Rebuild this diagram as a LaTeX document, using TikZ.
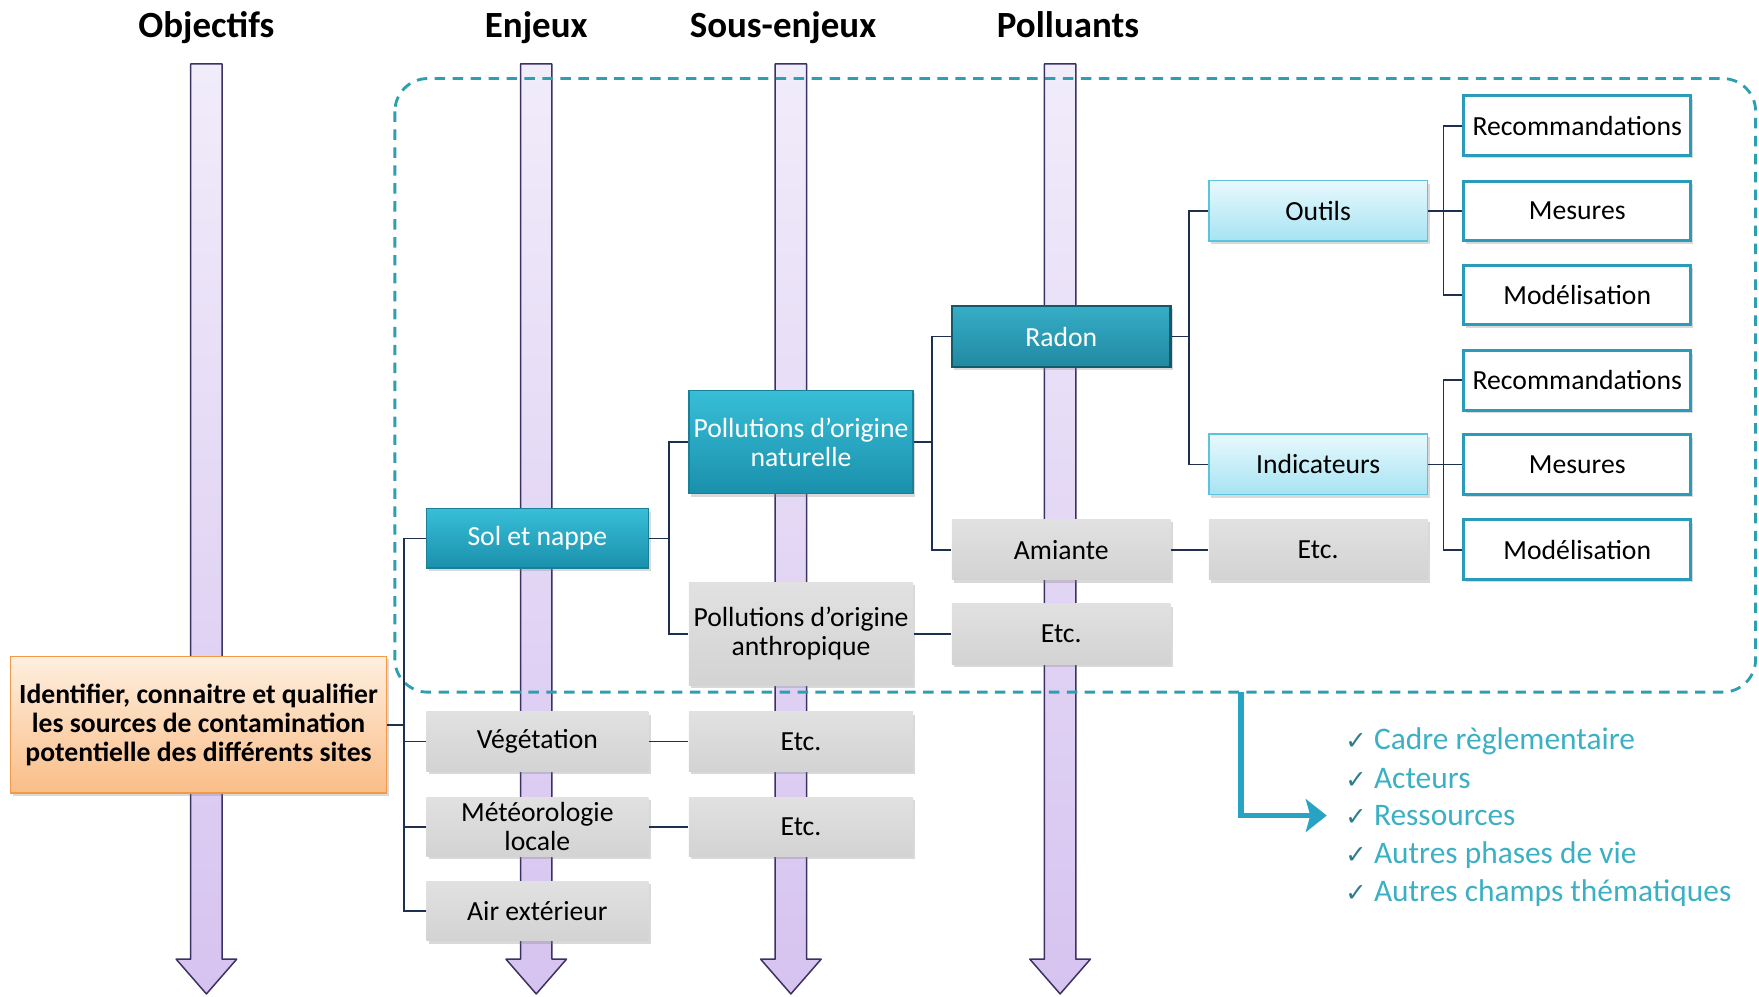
\documentclass[tikz,border=0pt]{standalone}
\usepackage{fontspec}
\setmainfont{Carlito}
\newfontfamily\symfont{DejaVu Sans}
\usetikzlibrary{shadows,arrows.meta}

\definecolor{conncol}{HTML}{1F2F4F}
\definecolor{framecol}{HTML}{2E9FB0}
\definecolor{arrowline}{HTML}{3A3262}
\definecolor{arrowtop}{HTML}{F1ECFA}
\definecolor{arrowbot}{HTML}{D6C3F0}
\definecolor{tealtop}{HTML}{38BED8}
\definecolor{tealbot}{HTML}{1A90AB}
\definecolor{tealdark}{HTML}{1B7F97}
\definecolor{radontop}{HTML}{36ADC6}
\definecolor{radonbot}{HTML}{2189A2}
\definecolor{radondark}{HTML}{12596C}
\definecolor{lighttop}{HTML}{E8F9FD}
\definecolor{lightbot}{HTML}{A6E3F3}
\definecolor{lightdark}{HTML}{5BC4DC}
\definecolor{recocol}{HTML}{2A9BB8}
\definecolor{graytop}{HTML}{E1E1E1}
\definecolor{graybot}{HTML}{D3D3D3}
\definecolor{orangetop}{HTML}{FEEFDF}
\definecolor{orangebot}{HTML}{FABD87}
\definecolor{orangedark}{HTML}{F29A48}
\definecolor{listcol}{HTML}{3BB0C4}
\definecolor{chkcol}{HTML}{2C7E8E}
\definecolor{bigarrowcol}{HTML}{27A3C4}

\newcommand\boxfont{\fontsize{18.5}{19.5}\selectfont}
\newcommand\headfont{\fontsize{24.7}{26}\selectfont\bfseries}
\newcommand\listfont{\fontsize{21}{22}\selectfont}
\newcommand\chk{{\symfont\fontsize{17}{17}\selectfont\color{chkcol}✓}\hspace{5pt}}

\tikzset{every picture/.style={line width=0.75pt}}
\tikzset{
  box/.style={minimum width=148.5pt, minimum height=39.75pt, inner sep=0pt, align=center, font=\boxfont,
    drop shadow={shadow xshift=1.5pt, shadow yshift=-2pt, opacity=.3}},
  graybox/.style={box, top color=graytop, bottom color=graybot, draw=none, text=black},
  tealbox/.style={box, top color=tealtop, bottom color=tealbot, draw=tealdark, line width=1pt, text=white},
  radonbox/.style={box, top color=radontop, bottom color=radonbot, draw=radondark, line width=1.5pt, text=white},
  lightbox/.style={box, top color=lighttop, bottom color=lightbot, draw=lightdark, line width=1pt, text=black},
  recobox/.style={box, fill=white, draw=recocol, line width=2pt, text=black},
  orangebox/.style={box, top color=orangetop, bottom color=orangebot, draw=orangedark, line width=1pt, text=black, font=\boxfont\bfseries},
  header/.style={font=\headfont, inner sep=1pt, anchor=base},
  listitem/.style={font=\listfont, text=listcol, anchor=west, inner sep=2pt},
  colarrow/.style={top color=arrowtop, bottom color=arrowbot, draw=arrowline, line width=1pt, line join=round},
  conn/.style={draw=conncol, line width=1.2pt},
  frame/.style={draw=framecol, line width=1.9pt, dash pattern={on 7pt off 5pt}, rounded corners=22pt},
  bigarrow/.style={draw=bigarrowcol, line width=3.8pt, -{Stealth[length=14pt,width=22pt,inset=3pt]}, shorten >=10pt}
}

\begin{document}
\begin{tikzpicture}[x=0.75pt,y=0.75pt,yscale=-1,xscale=1]
\useasboundingbox (0,0) rectangle (1568,888);

%Down Arrow (Objectifs)
\draw[colarrow] (170,57) -- (198,57) -- (198,855) -- (211,855) -- (184,886) -- (157,855) -- (170,855) -- cycle;
%Down Arrow (Enjeux)
\draw[colarrow] (464,57) -- (492,57) -- (492,855) -- (505,855) -- (478,886) -- (451,855) -- (464,855) -- cycle;
%Down Arrow (Sous-enjeux)
\draw[colarrow] (691,57) -- (719,57) -- (719,855) -- (732,855) -- (705,886) -- (678,855) -- (691,855) -- cycle;
%Down Arrow (Polluants)
\draw[colarrow] (931,57) -- (959,57) -- (959,855) -- (972,855) -- (945,886) -- (918,855) -- (931,855) -- cycle;

%Rounded Rect (dashed frame)
\draw[frame] (352,70) rectangle (1565,617);

% Text Node
\node[header] (hobj) at (184,33) {Objectifs};
% Text Node
\node[header] (henj) at (478,33) {Enjeux};
% Text Node
\node[header] (hsous) at (698,33) {Sous-enjeux};
% Text Node
\node[header] (hpoll) at (952,33) {Polluants};

% Objectifs
\node[orangebox, minimum width=251.25pt, minimum height=91.5pt] (obj) at (177,646) {Identifier, connaitre et qualifier\\les sources de contamination\\potentielle des différents sites};

% Enjeux
\node[tealbox] (sol) at (479,480) {Sol et nappe};
\node[graybox] (veg) at (479,661) {Végétation};
\node[graybox] (meteo) at (479,737) {Météorologie\\locale};
\node[graybox] (air) at (479,812) {Air extérieur};

% Sous-enjeux
\node[tealbox, minimum width=150pt, minimum height=69pt] (natur) at (714,394) {Pollutions d’origine\\naturelle};
\node[graybox, minimum width=150pt, minimum height=69pt] (anthro) at (714,565) {Pollutions d’origine\\anthropique};
\node[graybox, minimum width=150pt] (etcveg) at (714,661) {Etc.};
\node[graybox, minimum width=150pt] (etcmet) at (714,737) {Etc.};

% Polluants
\node[radonbox, minimum width=146.25pt, minimum height=40.5pt] (radon) at (946,300) {Radon};
\node[graybox, minimum width=146.25pt, minimum height=40.5pt] (amiante) at (946,490) {Amiante};
\node[graybox, minimum width=146.25pt, minimum height=40.5pt] (etcanthro) at (946,565) {Etc.};

% Outils / Indicateurs
\node[lightbox, minimum width=146.25pt, minimum height=40.5pt] (outils) at (1175,188) {Outils};
\node[lightbox, minimum width=146.25pt, minimum height=40.5pt] (indic) at (1175,414) {Indicateurs};
\node[graybox, minimum width=146.25pt, minimum height=40.5pt] (etcamiante) at (1175,490) {Etc.};

% Recommandations / Mesures / Modelisation
\node[recobox, minimum width=151.5pt] (reco1) at (1406,112) {Recommandations};
\node[recobox, minimum width=151.5pt] (mes1) at (1406,188) {Mesures};
\node[recobox, minimum width=151.5pt] (mod1) at (1406,263) {Modélisation};
\node[recobox, minimum width=151.5pt] (reco2) at (1406,339) {Recommandations};
\node[recobox, minimum width=151.5pt] (mes2) at (1406,414) {Mesures};
\node[recobox, minimum width=151.5pt] (mod2) at (1406,490) {Modélisation};

%Connectors
\draw[conn] (sol.west) -- ++(-19,0) coordinate (benj) |- (air.west);
\draw[conn] (benj |- veg.west) -- (veg.west);
\draw[conn] (benj |- meteo.west) -- (meteo.west);
\draw[conn] (obj.east) -- (benj |- obj.east);

\draw[conn] (natur.west) -- ++(-17,0) coordinate (bsous) |- (anthro.west);
\draw[conn] (sol.east) -- (bsous |- sol.east);

\draw[conn] (radon.west) -- ++(-17,0) coordinate (bpoll) |- (amiante.west);
\draw[conn] (natur.east) -- (bpoll |- natur.east);

\draw[conn] (outils.west) -- ++(-17,0) coordinate (bout) |- (indic.west);
\draw[conn] (radon.east) -- (bout |- radon.east);

\draw[conn] (reco1.west) -- ++(-17,0) coordinate (bt1) |- (mod1.west);
\draw[conn] (outils.east) -- (mes1.west);
\draw[conn] (reco2.west) -- ++(-17,0) coordinate (bt2) |- (mod2.west);
\draw[conn] (indic.east) -- (mes2.west);

\draw[conn] (veg.east) -- (etcveg.west);
\draw[conn] (meteo.east) -- (etcmet.west);
\draw[conn] (anthro.east) -- (etcanthro.west);
\draw[conn] (amiante.east) -- (etcamiante.west);

% List
\node[listitem] (l1) at (1196,661) {\chk Cadre règlementaire};
\node[listitem] (l2) at (1196,694) {\chk Acteurs};
\node[listitem] (l3) at (1196,727) {\chk Ressources};
\node[listitem] (l4) at (1196,762) {\chk Autres phases de vie};
\node[listitem] (l5) at (1196,796) {\chk Autres champs thématiques};

%Elbow Arrow
\coordinate (fdrop) at (1106,617);
\draw[bigarrow] (fdrop) |- (l3.west);

\end{tikzpicture}
\end{document}
